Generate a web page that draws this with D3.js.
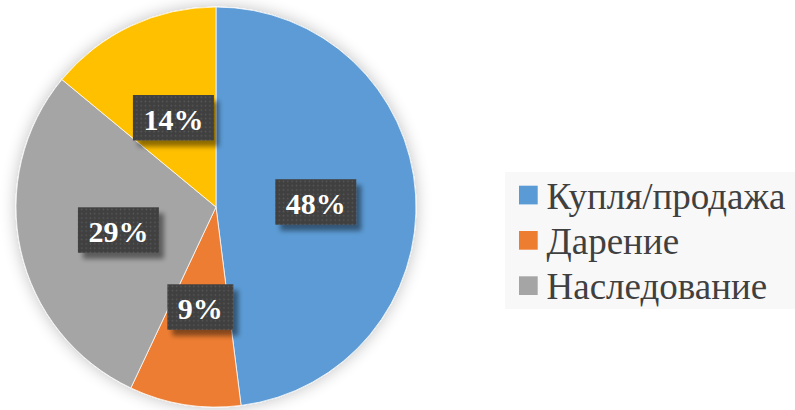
<!DOCTYPE html>
<html><head><meta charset="utf-8">
<script src="https://cdn.jsdelivr.net/npm/d3@7"></script>
<style>html,body{margin:0;padding:0;background:#fff;}svg{display:block;}
.serif{font-family:"Liberation Serif","Times New Roman",serif;}</style>
</head><body>
<svg id="chart" width="795" height="410"></svg>
<script>
const categories = ["Купля/продажа", "Дарение", "Наследование", "Другое"];
const values = [48, 9, 29, 14];
const colors = ["#5B9BD5", "#ED7D31", "#A5A5A5", "#FFC000"];
const legendItems = ["Купля/продажа", "Дарение", "Наследование"];

const svg = d3.select("#chart");
const cx = 216, cy = 207, R = 200;

const defs = svg.append("defs");
const pf = defs.append("filter").attr("id","pieShadow").attr("x","-20%").attr("y","-20%").attr("width","140%").attr("height","140%");
pf.append("feGaussianBlur").attr("in","SourceAlpha").attr("stdDeviation",8).attr("result","b");
pf.append("feComponentTransfer").attr("in","b").attr("result","b2")
  .append("feFuncA").attr("type","linear").attr("slope",0.25);
const pm = pf.append("feMerge");
pm.append("feMergeNode").attr("in","b2");
pm.append("feMergeNode").attr("in","SourceGraphic");

const lf = defs.append("filter").attr("id","lblShadow").attr("x","-30%").attr("y","-30%").attr("width","160%").attr("height","170%");
lf.append("feGaussianBlur").attr("in","SourceAlpha").attr("stdDeviation",2.5).attr("result","b");
lf.append("feOffset").attr("in","b").attr("dx",5).attr("dy",6).attr("result","o");
lf.append("feComponentTransfer").attr("in","o").attr("result","o2")
  .append("feFuncA").attr("type","linear").attr("slope",0.45);
const lm = lf.append("feMerge");
lm.append("feMergeNode").attr("in","o2");
lm.append("feMergeNode").attr("in","SourceGraphic");

const pat = defs.append("pattern").attr("id","dots").attr("patternUnits","userSpaceOnUse")
  .attr("width",4.3).attr("height",4.3);
pat.append("rect").attr("width",4.3).attr("height",4.3).attr("fill","#404040");
pat.append("circle").attr("cx",2.15).attr("cy",2.15).attr("r",0.8).attr("fill","#595959");

const pie = d3.pie().sort(null).value(d => d);
const arcs = pie(values);
const arc = d3.arc().innerRadius(0).outerRadius(R);
const labelArc = d3.arc().innerRadius(100).outerRadius(100);

const g = svg.append("g").attr("transform", `translate(${cx},${cy})`);
g.append("g").attr("filter","url(#pieShadow)")
  .selectAll("path").data(arcs).join("path")
  .attr("d", arc)
  .attr("fill", (d,i) => colors[i])
  .attr("stroke", "#ffffff").attr("stroke-width", 0.75);

const lbl = g.append("g").selectAll("g").data(arcs).join("g")
  .attr("transform", d => { const c = labelArc.centroid(d); return `translate(${c[0]},${c[1]})`; });
lbl.each(function(d){
  const gg = d3.select(this);
  const box = gg.append("rect").attr("fill","url(#dots)").attr("filter","url(#lblShadow)");
  const t = gg.append("text")
    .attr("class","serif")
    .attr("text-anchor","middle")
    .attr("y", 13)
    .style("font-weight","bold")
    .style("font-size", "30px")
    .attr("fill","#ffffff")
    .text(d.data + "%");
  const w = t.node().getComputedTextLength() + 21;
  box.attr("x", -w/2).attr("y", -21.5).attr("width", w).attr("height", 45.5);
});

// legend
const legend = svg.append("g");
legend.append("rect").attr("x",505).attr("y",172).attr("width",290).attr("height",137).attr("fill","#f8f8f8");
const li = legend.selectAll("g.item").data(legendItems).join("g").attr("class","item")
  .attr("transform", (d,i) => `translate(519,${185.7 + i*45.3})`);
li.append("rect").attr("width",18.7).attr("height",18.7).attr("fill",(d,i)=>colors[i]);
li.append("text").attr("class","serif").attr("x",27.5).attr("y",23)
  .style("font-size","37px").attr("fill","#404040").text(d=>d);
</script>
</body></html>
